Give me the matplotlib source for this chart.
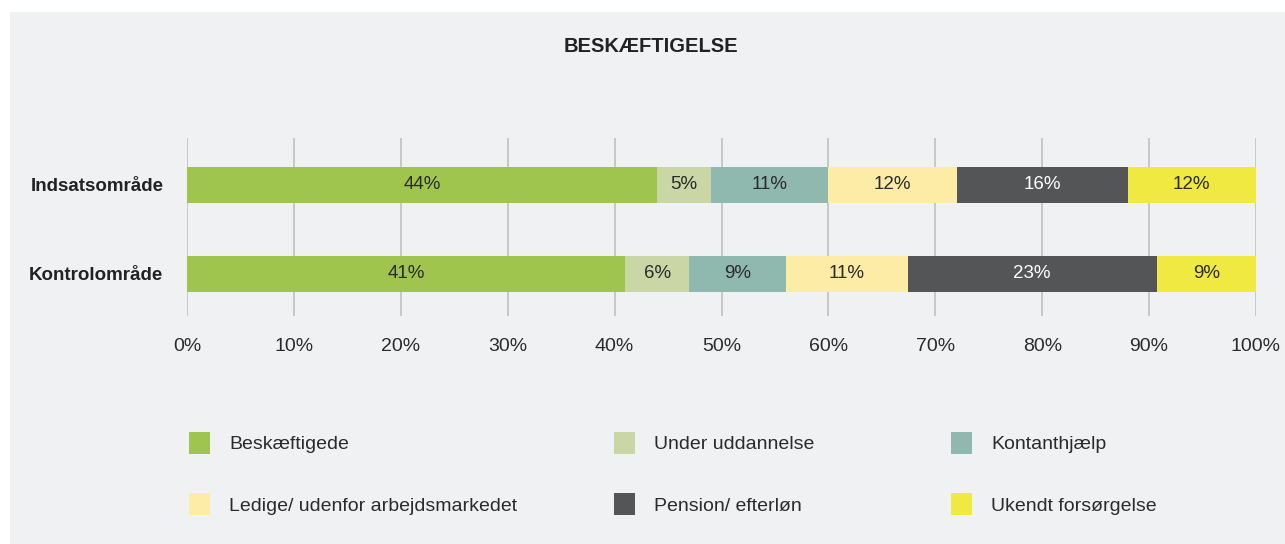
import matplotlib.pyplot as plt
from matplotlib.patches import Patch, Rectangle

# data
areas = ['Indsatsområde', 'Kontrolområde']
series = ['Beskæftigede', 'Under uddannelse', 'Kontanthjælp',
          'Ledige/ udenfor arbejdsmarkedet', 'Pension/ efterløn', 'Ukendt forsørgelse']
indsats = [44, 5, 11, 12, 16, 12]
kontrol = [41, 6, 9, 11.4, 23.3, 9.3]
colors = ['#9fc54f', '#cad6a6', '#8fb8ae', '#fdeca6', '#545557', '#efe941']
text_colors = ['#2b2b2b', '#2b2b2b', '#2b2b2b', '#2b2b2b', '#ffffff', '#2b2b2b']
ticks = [0, 10, 20, 30, 40, 50, 60, 70, 80, 90, 100]

plt.rcParams['font.family'] = ['Liberation Sans', 'DejaVu Sans']
bg = '#f0f1f3'

fig = plt.figure(figsize=(12.85, 5.44), dpi=100)
fig.patch.set_facecolor('white')
fig.patches.append(Rectangle((10/1285, 0), 1, 1 - 12/544, transform=fig.transFigure,
                             facecolor=bg, edgecolor='none', zorder=-10))

# axes spans x 187..1256 px, y 138..316 px
ax = fig.add_axes([187/1285, 1 - 316/544, (1256-187)/1285, (316-138)/544])
ax.set_facecolor(bg)
ax.patch.set_alpha(0)

vals = [indsats, kontrol]
ypos = [1, 0]
for row, y in zip(vals, ypos):
    left = 0
    for i, v in enumerate(row):
        ax.barh(y, v, left=left, height=0.405, color=colors[i], zorder=3)
        ax.text(left + v/2, y, f'{round(v)}%', ha='center', va='center',
                fontsize=13.5, color=text_colors[i], zorder=4)
        left += v

ax.set_xlim(0, 100)
ax.set_ylim(-0.472, 1.528)
for t in ticks:
    ax.axvline(t, color='#c4c4c4', lw=1.3, zorder=1)
ax.set_xticks(ticks)
ax.set_xticklabels([f'{t}%' for t in ticks], fontsize=14, color='#2b2b2b')
ax.tick_params(axis='x', length=0, pad=16)
ax.set_yticks(ypos)
ax.set_yticklabels(areas, fontsize=13.5, fontweight='bold', color='#222222')
ax.tick_params(axis='y', length=0, pad=17)
for s in ax.spines.values():
    s.set_visible(False)

fig.text(651/1285, 1 - 46/544, 'BESKÆFTIGELSE', ha='center', va='center',
         fontsize=14.5, fontweight='bold', color='#222222')

# legend: three columns placed separately
handles = [Patch(facecolor=c, edgecolor='none') for c in colors]
col_x = [171, 596, 933]
for k in range(3):
    idx = [k, k + 3]
    leg = fig.legend([handles[i] for i in idx], [series[i] for i in idx],
                     loc='upper left', bbox_to_anchor=(col_x[k]/1285, 1 - 414/544),
                     frameon=False, fontsize=14, handlelength=1.13, handleheight=1.365,
                     handletextpad=0.95, labelspacing=2.05, labelcolor='#2b2b2b')

fig.savefig('out.png', dpi=100, facecolor='white')
